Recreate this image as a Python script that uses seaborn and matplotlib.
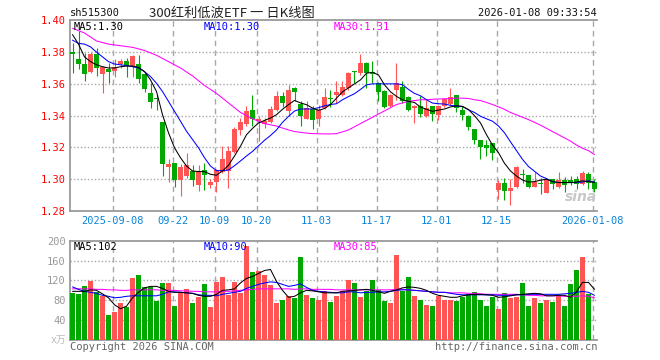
import numpy as np
import pandas as pd
import matplotlib
matplotlib.use("Agg")
import matplotlib.pyplot as plt
import seaborn as sns

# ---- data ----
open_ = [1.3798, 1.3756, 1.3727, 1.3677, 1.3785, 1.3660, 1.3694, 1.3683, 1.3727, 1.3746,
         1.3708, 1.3727, 1.3663, 1.3544, 1.3508, 1.3363, 1.3077, 1.3100, 1.2996, 1.3021,
         1.3052, 1.2965, 1.3058, 1.2965, 1.2983, 1.3046, 1.3052, 1.3173, 1.3310, 1.3348,
         1.3433, 1.3369, 1.3348, 1.3363, 1.3433, 1.3525, 1.3427, 1.3573, 1.3475, 1.3381,
         1.3442, 1.3379, 1.3448, 1.3513, 1.3531, 1.3531, 1.3577, 1.3679, 1.3667, 1.3729,
         1.3671, 1.3604, 1.3556, 1.3458, 1.3563, 1.3583, 1.3515, 1.3448, 1.3463, 1.3396,
         1.3463, 1.3406, 1.3458, 1.3475, 1.3531, 1.3433, 1.3396, 1.3317, 1.3246, 1.3215,
         1.3225, 1.2933, 1.2975, 1.2927, 1.2948, 1.3033, 1.3027, 1.2954, 1.2975, 1.2913,
         1.3000, 1.2954, 1.2996, 1.2992, 1.3000, 1.2969, 1.3031, 1.2983]
high = [1.3858, 1.3931, 1.3792, 1.3800, 1.3827, 1.3715, 1.3729, 1.3754, 1.3756, 1.3765,
        1.3781, 1.3781, 1.3667, 1.3604, 1.3527, 1.3363, 1.3125, 1.3100, 1.3096, 1.3165,
        1.3090, 1.3088, 1.3102, 1.3002, 1.3067, 1.3208, 1.3208, 1.3327, 1.3383, 1.3463,
        1.3531, 1.3396, 1.3385, 1.3458, 1.3552, 1.3546, 1.3594, 1.3583, 1.3490, 1.3490,
        1.3463, 1.3469, 1.3573, 1.3563, 1.3615, 1.3619, 1.3677, 1.3681, 1.3785, 1.3740,
        1.3746, 1.3610, 1.3563, 1.3538, 1.3729, 1.3615, 1.3521, 1.3469, 1.3525, 1.3500,
        1.3463, 1.3469, 1.3510, 1.3573, 1.3531, 1.3463, 1.3406, 1.3317, 1.3246, 1.3246,
        1.3225, 1.2996, 1.3010, 1.3000, 1.3083, 1.3063, 1.3027, 1.3046, 1.3010, 1.3004,
        1.3004, 1.3046, 1.3017, 1.3021, 1.3021, 1.3052, 1.3046, 1.3004]
low = [1.3667, 1.3694, 1.3619, 1.3667, 1.3650, 1.3542, 1.3608, 1.3642, 1.3698, 1.3646,
       1.3646, 1.3608, 1.3546, 1.3448, 1.3435, 1.3021, 1.2981, 1.2952, 1.2896, 1.3010,
       1.2958, 1.2923, 1.2931, 1.2944, 1.2921, 1.3042, 1.2944, 1.3167, 1.3277, 1.3338,
       1.3338, 1.3240, 1.3323, 1.3354, 1.3427, 1.3454, 1.3396, 1.3490, 1.3338, 1.3379,
       1.3319, 1.3338, 1.3442, 1.3454, 1.3479, 1.3525, 1.3563, 1.3604, 1.3656, 1.3573,
       1.3604, 1.3490, 1.3448, 1.3454, 1.3496, 1.3479, 1.3427, 1.3354, 1.3390, 1.3392,
       1.3365, 1.3375, 1.3454, 1.3469, 1.3421, 1.3375, 1.3308, 1.3219, 1.3129, 1.3146,
       1.3121, 1.2875, 1.2871, 1.2840, 1.2944, 1.2979, 1.2944, 1.2948, 1.2910, 1.2913,
       1.2938, 1.2944, 1.2917, 1.2963, 1.2938, 1.2965, 1.2938, 1.2917]
close = [1.3785, 1.3727, 1.3665, 1.3785, 1.3698, 1.3708, 1.3677, 1.3708, 1.3744, 1.3715,
         1.3777, 1.3633, 1.3565, 1.3483, 1.3502, 1.3096, 1.3098, 1.2996, 1.3075, 1.3092,
         1.2994, 1.3052, 1.3027, 1.2983, 1.3056, 1.3127, 1.3175, 1.3313, 1.3363, 1.3431,
         1.3381, 1.3379, 1.3365, 1.3444, 1.3525, 1.3481, 1.3563, 1.3546, 1.3396, 1.3448,
         1.3375, 1.3438, 1.3515, 1.3506, 1.3546, 1.3583, 1.3667, 1.3673, 1.3729, 1.3667,
         1.3665, 1.3546, 1.3454, 1.3531, 1.3604, 1.3490, 1.3433, 1.3463, 1.3413, 1.3448,
         1.3410, 1.3458, 1.3506, 1.3515, 1.3448, 1.3406, 1.3329, 1.3246, 1.3204, 1.3198,
         1.3163, 1.2979, 1.2923, 1.2944, 1.3079, 1.3027, 1.2948, 1.2983, 1.2969, 1.3000,
         1.2969, 1.2996, 1.2965, 1.2985, 1.2969, 1.3042, 1.2979, 1.2938]

ma5 = [1.3910, 1.3850, 1.3770, 1.3740, 1.3720, 1.3708, 1.3700, 1.3700, 1.3708, 1.3712,
       1.3712, 1.3704, 1.3677, 1.3625, 1.3552, 1.3406, 1.3292, 1.3198, 1.3135, 1.3083,
       1.3052, 1.3048, 1.3048, 1.3031, 1.3025, 1.3052, 1.3088, 1.3146, 1.3208, 1.3280,
       1.3320, 1.3354, 1.3370, 1.3385, 1.3406, 1.3440, 1.3469, 1.3496, 1.3480, 1.3469,
       1.3448, 1.3433, 1.3445, 1.3470, 1.3510, 1.3550, 1.3575, 1.3600, 1.3625, 1.3667,
       1.3673, 1.3656, 1.3594, 1.3550, 1.3521, 1.3500, 1.3490, 1.3483, 1.3454, 1.3440,
       1.3427, 1.3435, 1.3442, 1.3455, 1.3462, 1.3458, 1.3438, 1.3400, 1.3354, 1.3280,
       1.3215, 1.3167, 1.3100, 1.3052, 1.3020, 1.2995, 1.2982, 1.2985, 1.2994, 1.3000,
       1.2985, 1.2979, 1.2979, 1.2979, 1.2982, 1.2990, 1.2985, 1.2979]
ma10 = [1.3875, 1.3855, 1.3850, 1.3833, 1.3800, 1.3770, 1.3740, 1.3725, 1.3720, 1.3715,
        1.3708, 1.3700, 1.3677, 1.3646, 1.3604, 1.3552, 1.3490, 1.3427, 1.3365, 1.3302,
        1.3250, 1.3198, 1.3135, 1.3083, 1.3054, 1.3054, 1.3058, 1.3085, 1.3115, 1.3146,
        1.3175, 1.3210, 1.3245, 1.3275, 1.3310, 1.3358, 1.3395, 1.3429, 1.3442, 1.3442,
        1.3442, 1.3450, 1.3462, 1.3470, 1.3475, 1.3500, 1.3520, 1.3538, 1.3565, 1.3594,
        1.3600, 1.3600, 1.3600, 1.3600, 1.3600, 1.3595, 1.3565, 1.3540, 1.3525, 1.3500,
        1.3479, 1.3475, 1.3473, 1.3465, 1.3460, 1.3458, 1.3437, 1.3420, 1.3396, 1.3380,
        1.3365, 1.3335, 1.3292, 1.3235, 1.3180, 1.3125, 1.3080, 1.3050, 1.3020, 1.3004,
        1.2985, 1.2979, 1.2979, 1.2979, 1.2979, 1.2982, 1.2990, 1.2982]
ma30 = [1.3950, 1.3935, 1.3920, 1.3895, 1.3870, 1.3860, 1.3850, 1.3845, 1.3840, 1.3835,
        1.3830, 1.3820, 1.3810, 1.3795, 1.3780, 1.3760, 1.3740, 1.3720, 1.3700, 1.3675,
        1.3650, 1.3620, 1.3590, 1.3565, 1.3540, 1.3510, 1.3480, 1.3450, 1.3420, 1.3400,
        1.3380, 1.3365, 1.3350, 1.3342, 1.3335, 1.3322, 1.3310, 1.3300, 1.3295, 1.3290,
        1.3287, 1.3286, 1.3285, 1.3285, 1.3287, 1.3298, 1.3310, 1.3330, 1.3350, 1.3370,
        1.3390, 1.3410, 1.3430, 1.3450, 1.3470, 1.3480, 1.3490, 1.3495, 1.3500, 1.3500,
        1.3503, 1.3505, 1.3506, 1.3508, 1.3510, 1.3510, 1.3508, 1.3500, 1.3495, 1.3483,
        1.3470, 1.3455, 1.3440, 1.3420, 1.3405, 1.3390, 1.3375, 1.3358, 1.3340, 1.3320,
        1.3300, 1.3280, 1.3260, 1.3240, 1.3215, 1.3195, 1.3180, 1.3155]

volume = [94, 92.5, 108, 119, 97, 88, 49.5, 55.5, 73.7, 65.6,
          124, 130, 106, 106, 78, 114, 114, 67.7, 97, 103,
          74, 86, 112, 66, 117, 127, 90.5, 117, 94, 189,
          136, 139, 131, 110, 74, 80, 88, 84, 167, 90,
          84, 80, 98, 76, 88, 98, 120, 114, 86, 98,
          120, 100, 78, 74, 171, 98, 126, 88, 81, 71,
          69, 88, 80, 80, 78, 86, 92, 96, 81, 69,
          86, 63, 94, 84, 86, 114, 69, 84, 74, 80,
          76, 90, 69, 112, 140, 167, 92, 1]
vma5 = [98, 98, 98, 101, 100, 93, 85, 71, 63, 68,
        85, 96, 105, 108, 108, 104, 98, 96, 96, 95,
        94, 90, 88, 88, 92, 100, 101, 103, 115, 124,
        128, 134, 140, 142, 118, 100, 86, 88, 95, 100,
        99, 97, 95, 95, 95, 98, 99, 100, 101, 102,
        100, 97, 94, 98, 101, 105, 107, 106, 104, 100,
        94, 90, 88, 86, 86, 89, 91, 92, 92, 91,
        90, 86, 87, 89, 91, 92, 93, 94, 93, 89,
        89, 90, 90, 86, 97, 116, 116, 102]
vma10 = [107, 102, 98, 96, 94, 90, 88, 85, 86, 88,
         89, 89, 89, 89, 89, 92, 97, 97, 96, 95,
         94, 91, 90, 90, 89, 92, 94, 96, 98, 104,
         108, 112, 115, 117, 116, 112, 108, 110, 113, 106,
         100, 98, 97, 96, 95, 95, 97, 97, 95, 96,
         96, 97, 97, 98, 100, 101, 101, 100, 99, 98,
         97, 96, 96, 94, 92, 91, 91, 91, 91, 91,
         91, 90, 90, 90, 91, 91, 92, 92, 92, 92,
         92, 92, 93, 94, 96, 98, 96, 90]
vma30 = [103, 103, 103, 103, 102, 102, 101, 101, 100, 100,
         101, 101, 101, 101, 101, 100, 100, 100, 99, 99,
         98, 98, 97, 97, 97, 98, 98, 99, 100, 101,
         102, 103, 103, 103, 103, 103, 103, 102, 103, 103,
         102, 102, 102, 102, 101, 101, 101, 101, 101, 101,
         101, 101, 101, 101, 102, 102, 101, 100, 99, 98,
         97, 96, 96, 95, 95, 95, 94, 94, 93, 92,
         92, 92, 92, 92, 92, 91, 90, 90, 89, 89,
         89, 89, 88, 88, 88, 89, 88, 85]

tick_idx = [7, 17, 24, 31, 41, 51, 61, 71, 87]
tick_labels = ["2025-09-08", "09-22", "10-09", "10-20", "11-03",
               "11-17", "12-01", "12-15", "2026-01-08"]

# ---- styling ----
sns.set_style("white")
plt.rcParams["font.family"] = ["DejaVu Sans Mono", "Noto Sans CJK SC"]

RED = "#ff5555"
GREEN = "#00a800"
GRID = "#a8a8a8"
FRAME = "#9a9a9a"
W, H = 660, 360

df = pd.DataFrame({"open": open_, "high": high, "low": low, "close": close,
                   "vol": volume, "ma5": ma5, "ma10": ma10, "ma30": ma30,
                   "vma5": vma5, "vma10": vma10, "vma30": vma30})
df["i"] = np.arange(len(df))
up = df["close"] >= df["open"]
cols = np.where(up, RED, GREEN)

fig = plt.figure(figsize=(6.6, 3.6), dpi=100)
fig.patch.set_facecolor("white")

def box(x0, y0, x1, y1):
    return [x0 / W, 1 - y1 / H, (x1 - x0) / W, (y1 - y0) / H]

ax = fig.add_axes(box(70, 20.3, 597, 211))
ax2 = fig.add_axes(box(70, 240.7, 597, 340))
xlim = (-2.5 / 6, (597 - 72.5) / 6)
grid_x = [t - 0.3 for t in tick_idx]

for a in (ax, ax2):
    a.set_xlim(*xlim)
    for s in ("top", "left", "bottom"):
        a.spines[s].set_color(FRAME)
        a.spines[s].set_linewidth(1.3)
    a.spines["right"].set_visible(False)
    for gx in grid_x:
        a.axvline(gx, color=GRID, lw=1.0, ls=(0, (4, 3)), zorder=0)
    a.set_xticks([])
    a.tick_params(axis="y", length=0, pad=3)

# candles
ax.set_ylim(1.28 + 1.3 / 1600, 1.40)
for lvl in (1.30, 1.32, 1.34, 1.36, 1.38):
    ax.axhline(lvl, color=GRID, lw=1.0, ls=(0, (1, 1.5)), zorder=0)
ax.vlines(df["i"], df["low"], df["high"], colors=cols, lw=0.8, zorder=2)
body = np.maximum((df["close"] - df["open"]).abs(), 0.0007)
ax.bar(df["i"], body, bottom=np.minimum(df["open"], df["close"]),
       width=0.84, color=cols, linewidth=0, zorder=3)
for col, c in (("ma30", "#ff00ff"), ("ma10", "#0000ff"), ("ma5", "black")):
    sns.lineplot(data=df, x="i", y=col, color=c, lw=0.75, ax=ax, zorder=4)
ax.set_xlim(*xlim)
ax.set_xlabel("")
ax.set_ylabel("")
ax.set_yticks([1.28, 1.30, 1.32, 1.34, 1.36, 1.38, 1.40])
ax.set_yticklabels(["1.28", "1.30", "1.32", "1.34", "1.36", "1.38", "1.40"],
                   color="#ff0000", fontsize=7.5)
ax.set_xticks([])

# volume
ax2.set_ylim(0, 200)
for lvl in (40, 80, 120, 160):
    ax2.axhline(lvl, color=GRID, lw=1.0, ls=(0, (1, 1.5)), zorder=0)
ax2.bar(df["i"], df["vol"], width=0.84, color=cols, linewidth=0, zorder=3)
for col, c in (("vma30", "#ff00ff"), ("vma10", "#0000ff"), ("vma5", "black")):
    sns.lineplot(data=df, x="i", y=col, color=c, lw=0.75, ax=ax2, zorder=4)
ax2.set_xlim(*xlim)
ax2.set_xlabel("")
ax2.set_ylabel("")
ax2.set_yticks([40, 80, 120, 160, 200])
ax2.set_yticklabels(["40", "80", "120", "160", "200"], color="#999999", fontsize=7.5)
ax2.set_xticks([])

# date labels under the price panel
for gx, lab in zip(grid_x, tick_labels):
    ax.text(gx, -10 / 190.7, lab, transform=ax.get_xaxis_transform(), ha="center",
            va="center", color="#0a84d8", fontsize=7.5)

def ftext(x, y, s, **kw):
    fig.text(x / W, 1 - y / H, s, va="center", **kw)

ftext(70, 13, "sh515300", color="#111111", fontsize=7.5)
ftext(232, 13, "300红利低波ETF 一 日K线图", ha="center", color="#222222",
      fontsize=9.5, family=["Noto Sans CJK SC", "DejaVu Sans"])
ftext(597, 13, "2026-01-08 09:33:54", ha="right", color="#111111", fontsize=7.5)

ftext(74, 26.5, "MA5:1.30", color="black", fontsize=7.5)
ftext(204, 26.5, "MA10:1.30", color="#0000ff", fontsize=7.5)
ftext(334, 26.5, "MA30:1.31", color="#ff00ff", fontsize=7.5)
ftext(74, 246.5, "MA5:102", color="black", fontsize=7.5)
ftext(204, 246.5, "MA10:90", color="#0000ff", fontsize=7.5)
ftext(334, 246.5, "MA30:85", color="#ff00ff", fontsize=7.5)

ftext(66, 340, "x万", ha="right", color="#bbbbbb", fontsize=7,
      family=["DejaVu Sans Mono", "Noto Sans CJK SC"])
ftext(70, 346.5, "Copyright 2026 SINA.COM", color="#666666", fontsize=7.5)
ftext(597, 346.5, "http://finance.sina.com.cn", ha="right", color="#666666", fontsize=7.5)
ftext(581, 197, "sina", ha="center", color="#c8c8c8", fontsize=10,
      style="italic", weight="bold", family="DejaVu Sans")

fig.savefig("out.png", dpi=100)
